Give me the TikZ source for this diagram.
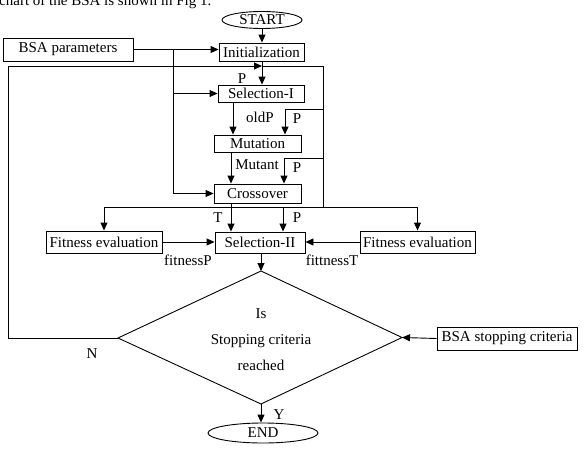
\documentclass[tikz,border=0pt]{standalone}
\usepackage{fontspec}
\setmainfont{Liberation Serif}
\usetikzlibrary{arrows.meta,shapes.geometric}
\begin{document}
\begin{tikzpicture}[x=1pt,y=-1pt,
  every node/.style={font=\fontsize{15}{18}\selectfont},
  box/.style={draw, line width=0.9pt, inner sep=0pt},
  term/.style={draw, ellipse, line width=0.9pt, inner sep=0pt},
  lbl/.style={inner sep=0pt, anchor=base},
  ln/.style={line width=0.9pt},
  arr/.style={line width=0.9pt, -{Triangle[length=8pt,width=7pt]}}]
\useasboundingbox (0,0) rectangle (586,455);
\clip (0,0) rectangle (586,455);
\node[inner sep=0pt, anchor=base west] (cap) at (-1,5.5) {chart of the BSA is shown in Fig 1.};

% nodes
\node[term, minimum width=80pt, minimum height=17pt] (start) at (262,20) {START};
\node[box, minimum width=85pt, minimum height=18pt] (init) at (261.5,52) {Initialization};
\node[box, minimum width=130pt, minimum height=23pt] (bsap) at (68,49.5) {BSA parameters};
\node[box, minimum width=86pt, minimum height=17pt] (sel1) at (261,93.5) {Selection-I};
\node[box, minimum width=87pt, minimum height=17pt] (mut) at (257.5,143.5) {Mutation};
\node[box, minimum width=87pt, minimum height=19pt] (cro) at (257.5,193.5) {Crossover};
\node[box, minimum width=90pt, minimum height=21pt] (sel2) at (260,242.5) {Selection-II};
\node[box, minimum width=116pt, minimum height=22pt] (fitL) at (104,242) {Fitness evaluation};
\node[box, minimum width=115pt, minimum height=22pt] (fitR) at (417.5,242) {Fitness evaluation};
\node[box, minimum width=140pt, minimum height=23pt] (stop) at (507,338.5) {BSA stopping criteria};
\node[term, minimum width=110pt, minimum height=20pt] (end) at (263,433) {END};

% decision diamond
\coordinate (dT) at (261,271);
\coordinate (dR) at (402,337.5);
\coordinate (dB) at (261,404);
\coordinate (dL) at (118,338);
\draw[ln] (dT) -- (dR) -- (dB) -- (dL) -- cycle;
\node[lbl] (dIs) at (261,318) {Is};
\node[lbl] (dSC) at (261,344.5) {Stopping criteria};
\node[lbl] (dRe) at (261,370) {reached};

% helper coordinates
\coordinate (br) at (173,49.5);
\coordinate (pj) at (262,66);
\coordinate (lc) at (8,66);
\coordinate (rv) at (323,66);
\coordinate (rvb) at (323,207);
\coordinate (mp) at (285,109);
\coordinate (cp) at (284,158);
\coordinate (ox) at (233,0);
\coordinate (mx) at (231,0);
\coordinate (tx) at (231,0);
\coordinate (hr) at (417,207);
\coordinate (px) at (283,207);

% connectors
\draw[arr] (start.south) -- (start.south |- init.north);
\draw[arr] (bsap.east) -- (bsap.east -| init.west);
\draw[ln] (br) -- (br |- cro.west);
\draw[arr] (br |- sel1.west) -- (sel1.west);
\draw[arr] (br |- cro.west) -- (cro.west);
\draw[arr] (pj |- init.south) -- (pj |- sel1.north);
\draw[arr] (dL) -- (lc |- dL) -- (lc) -- (pj);
\draw[ln] (pj) -- (rv) -- (rvb);
\draw[arr] (rv |- mp) -- (mp) -- (mp |- mut.north);
\draw[arr] (ox |- sel1.south) -- (ox |- mut.north);
\draw[arr] (mx |- mut.south) -- (mx |- cro.north);
\draw[arr] (rv |- cp) -- (cp) -- (cp |- cro.north);
\draw[arr] (fitR.north |- hr) -- (fitL.north |- hr) -- (fitL.north);
\draw[arr] (fitR.north |- hr) -- (fitR.north);
\draw[arr] (tx |- cro.south) -- (tx |- sel2.north);
\draw[arr] (px) -- (px |- sel2.north);
\draw[arr] (fitL.east) -- (sel2.west |- fitL.east);
\draw[arr] (fitR.west) -- (sel2.east |- fitR.west);
\draw[arr] (sel2.south -| dT) -- (dT);
\draw[arr] (stop.west) -- (dR);
\draw[arr] (dB) -- (dB |- end.north);

% labels
\node[lbl] (lP1) at (242,83) {P};
\node[lbl] (lold) at (260,122.5) {oldP};
\node[lbl] (lP2) at (297,123) {P};
\node[lbl] (lmut) at (257,169) {Mutant};
\node[lbl] (lP3) at (297,172.5) {P};
\node[lbl] (lT) at (218,222) {T};
\node[lbl] (lP4) at (297,222) {P};
\node[lbl] (lfp) at (188,265) {fitnessP};
\node[lbl] (lft) at (332,265) {fittnessT};
\node[lbl] (lN) at (92,358) {N};
\node[lbl] (lY) at (279,419) {Y};
\end{tikzpicture}
\end{document}
